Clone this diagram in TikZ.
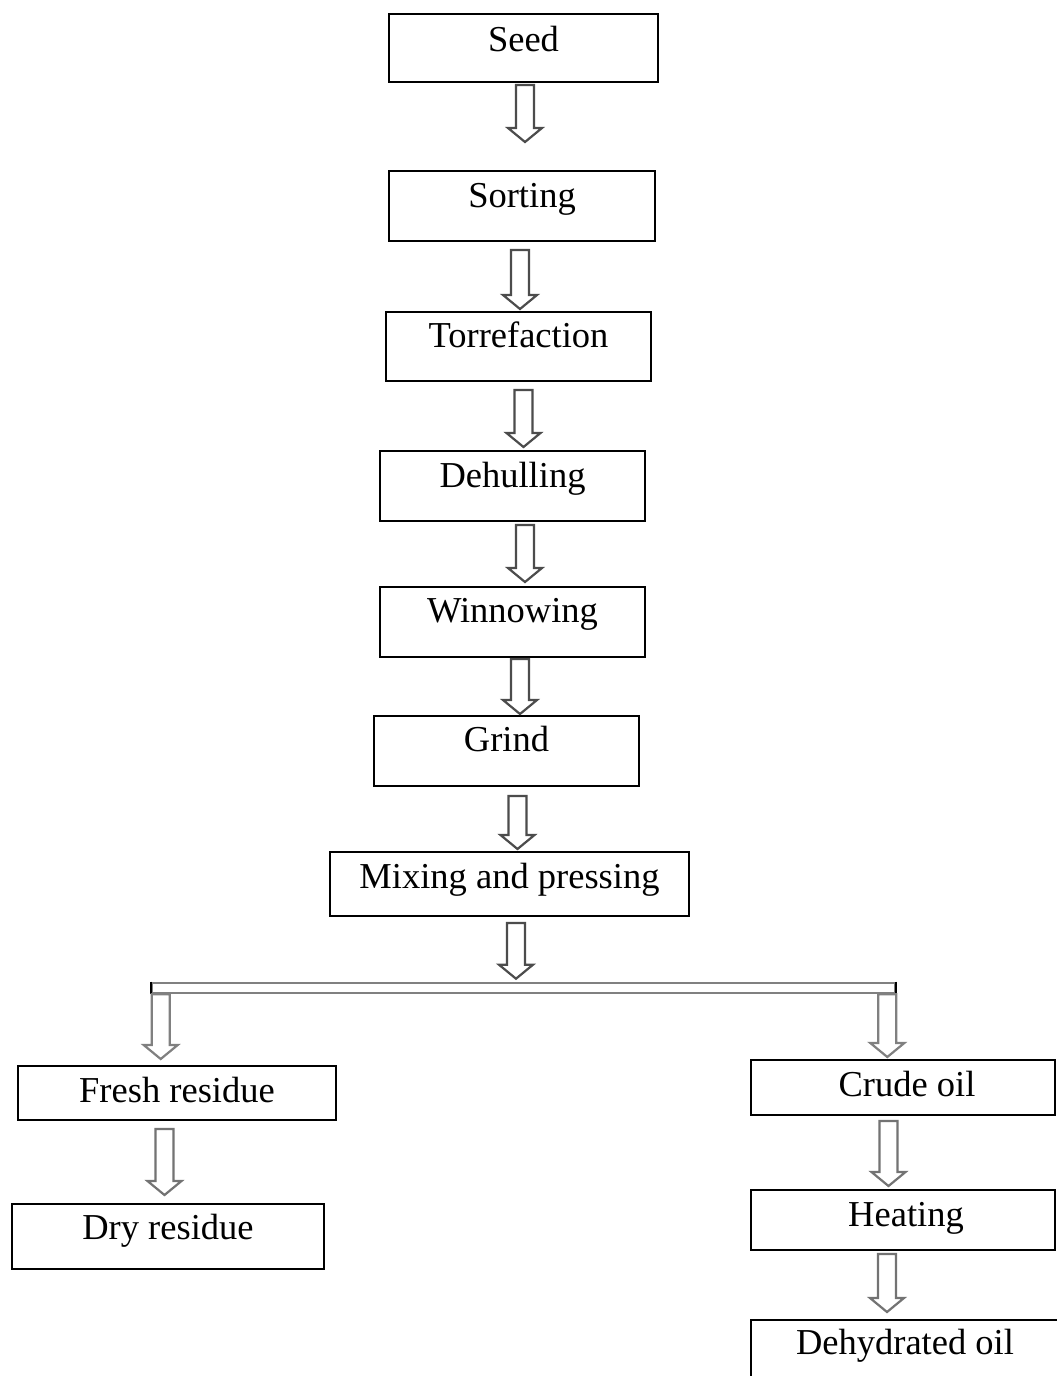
\documentclass[tikz,border=0pt]{standalone}
\usepackage{fontspec}
\setmainfont{Liberation Serif}
\usetikzlibrary{calc}
\tikzset{
  box/.style={draw=black, line width=2pt, rectangle, inner sep=0pt, fill=white},
  lbl/.style={anchor=base, inner sep=0pt, font=\fontsize{36.5}{44}\selectfont},
  harrow/.style={draw=black!70, line width=2.2pt, fill=white, line join=miter,
    to path={let \p1=(\tikztostart), \p2=(\tikztotarget) in
      (\x1-9pt,\y1) -- (\x1-9pt,\y2+14pt) -- (\x1-17pt,\y2+14pt) -- (\x1,\y2)
      -- (\x1+17pt,\y2+14pt) -- (\x1+9pt,\y2+14pt) -- (\x1+9pt,\y1) -- cycle}},
}
\begin{document}
\begin{tikzpicture}[x=1pt,y=-1pt]
\useasboundingbox (0,0) rectangle (1057,1376);
\fill[white] (0,0) rectangle (1057,1376);
% boxes
\node[box, minimum width=269pt, minimum height=68pt] (seed)    at (523.5,48)   {};
\node[box, minimum width=266pt, minimum height=70pt] (sorting) at (522,206)    {};
\node[box, minimum width=265pt, minimum height=69pt] (torref)  at (518.5,346.5){};
\node[box, minimum width=265pt, minimum height=70pt] (dehull)  at (512.5,486)  {};
\node[box, minimum width=265pt, minimum height=70pt] (winnow)  at (512.5,622)  {};
\node[box, minimum width=265pt, minimum height=70pt] (grind)   at (506.5,751)  {};
\node[box, minimum width=359pt, minimum height=64pt] (mixing)  at (509.5,884)  {};
\node[box, minimum width=318pt, minimum height=54pt] (fresh)   at (177,1093)   {};
\node[box, minimum width=312pt, minimum height=65pt] (dry)     at (168,1236.5) {};
\node[box, minimum width=304pt, minimum height=55pt] (crude)   at (903,1087.5) {};
\node[box, minimum width=304pt, minimum height=60pt] (heating) at (903,1220)   {};
\node[box, minimum width=308pt, minimum height=70pt] (dehyd)   at (905,1355)   {};
% labels
\node[lbl] (seedt)    at ([yshift=-38pt]seed.north)    {Seed};
\node[lbl] (sortingt) at ([yshift=-37pt]sorting.north) {Sorting};
\node[lbl] (torreft)  at ([yshift=-36pt]torref.north)  {Torrefaction};
\node[lbl] (dehullt)  at ([yshift=-37pt]dehull.north)  {Dehulling};
\node[lbl] (winnowt)  at ([yshift=-36pt]winnow.north)  {Winnowing};
\node[lbl] (grindt)   at ([yshift=-36pt]grind.north)   {Grind};
\node[lbl] (mixingt)  at ([yshift=-37pt]mixing.north)  {Mixing and pressing};
\node[lbl] (fresht)   at ([yshift=-37pt]fresh.north)   {Fresh residue};
\node[lbl] (dryt)     at ([yshift=-36pt]dry.north)     {Dry residue};
\node[lbl] (crudet)   at ([xshift=4pt,yshift=-37pt]crude.north)   {Crude oil};
\node[lbl] (heatingt) at ([xshift=3pt,yshift=-37pt]heating.north) {Heating};
\node[lbl] (dehydt)   at ([yshift=-35pt]dehyd.north)   {Dehydrated oil};
% branching bar
\node[draw=black!50, line width=2.6pt, fill=white, rectangle, inner sep=0pt,
      minimum width=743pt, minimum height=10pt] (bar) at (523.5,988) {};
\draw[black, line width=2.2pt] (bar.north west) -- (bar.south west)
      (bar.north east) -- (bar.south east);
% arrows
\draw[harrow] ([xshift=1.5pt,yshift=-2pt]seed.south) to ([yshift=28pt]sorting.north);
\draw[harrow] ([xshift=-2pt,yshift=-8pt]sorting.south) to ([yshift=2pt]torref.north);
\draw[harrow] ([xshift=5pt,yshift=-8pt]torref.south) to ([yshift=3pt]dehull.north);
\draw[harrow] ([xshift=12.5pt,yshift=-3pt]dehull.south) to ([yshift=4pt]winnow.north);
\draw[harrow] ([xshift=7.5pt,yshift=-1pt]winnow.south) to ([yshift=1pt]grind.north);
\draw[harrow] ([xshift=11pt,yshift=-9pt]grind.south) to ([yshift=2pt]mixing.north);
\draw[harrow] ([xshift=6.5pt,yshift=-6pt]mixing.south) to ([yshift=3pt]bar.north);
\draw[harrow, draw=black!50] ([xshift=10pt]bar.south west) to ([yshift=6pt]fresh.north);
\draw[harrow, draw=black!50] ([xshift=-9pt]bar.south east) to ([yshift=2pt]crude.north);
\draw[harrow, draw=black!55] ([xshift=-12.5pt,yshift=-8pt]fresh.south) to ([yshift=8pt]dry.north);
\draw[harrow, draw=black!55] ([xshift=-14.5pt,yshift=-5pt]crude.south) to ([yshift=3pt]heating.north);
\draw[harrow, draw=black!55] ([xshift=-16pt,yshift=-3pt]heating.south) to ([yshift=7pt]dehyd.north);
\end{tikzpicture}
\end{document}
